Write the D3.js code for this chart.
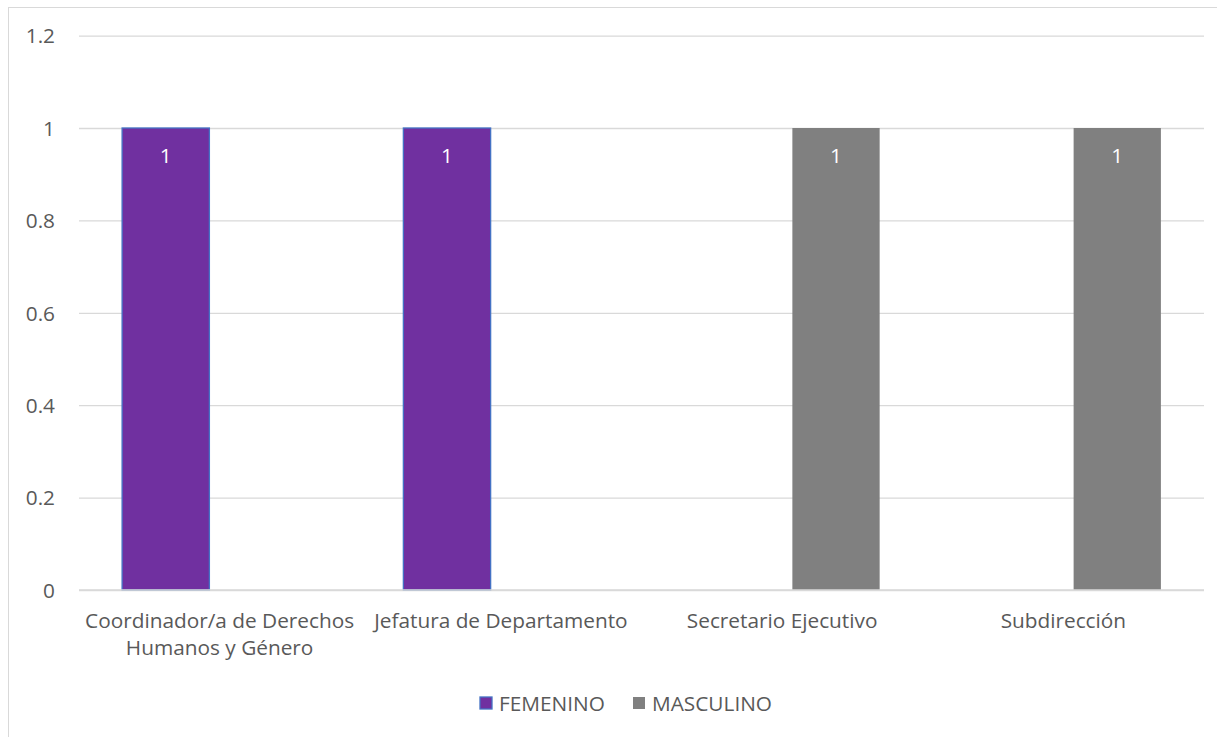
<!DOCTYPE html>
<html><head><meta charset="utf-8">
<script src="https://cdn.jsdelivr.net/npm/d3@7"></script>
<style>body{margin:0;background:#fff;} text{font-family:"Open Sans",Lato,sans-serif;}</style>
</head><body>
<svg id="c" width="1217" height="737"></svg>
<script>
const categories = [["Coordinador/a de Derechos","Humanos y Género"],["Jefatura de Departamento"],["Secretario Ejecutivo"],["Subdirección"]];
const seriesNames = ["FEMENINO","MASCULINO"];
const femenino = [1, 1, null, null];
const masculino = [null, null, 1, 1];
const yTicks = [0, 0.2, 0.4, 0.6, 0.8, 1, 1.2];
const colors = ["#7030A0", "#808080"];

(function(){
const FS = "20.8px";
const svg = d3.select("#c");
svg.append("rect").attr("x",8.5).attr("y",7.5).attr("width",1230).attr("height",760)
  .attr("fill","#fff").attr("stroke","#d9d9d9");

const pLeft = 79, pRight = 1204, pTop = 35.6, pBottom = 590;
const x0 = d3.scaleBand().domain(d3.range(categories.length)).range([pLeft,pRight]).padding(0);
const y = d3.scaleLinear().domain([0,1.2]).range([pBottom, pTop]);
const x1 = d3.scaleBand().domain(seriesNames).range([0, x0.bandwidth()]).paddingInner(0.19).paddingOuter(0.4);

const yAxis = d3.axisLeft(y).tickValues(yTicks).tickSize(-(pRight-pLeft)).tickFormat(d=>d3.format("")(d));
const gy = svg.append("g").attr("transform",`translate(${pLeft},0)`).call(yAxis)
  .attr("font-family",null).attr("font-size",null);
gy.select(".domain").remove();
gy.selectAll("line").attr("stroke","#d9d9d9").attr("stroke-width",1.3);
gy.selectAll("text").attr("x",-24).attr("fill","#595959").style("font-size",FS).attr("dy","0.35em");

const series = [femenino, masculino];
series.forEach((vals,si)=>{
  const g = svg.append("g");
  vals.forEach((v,i)=>{
    if(v==null) return;
    const xx = x0(i)+x1(seriesNames[si]);
    g.append("rect").attr("x",xx).attr("y",y(v)).attr("width",x1.bandwidth()).attr("height",y(0)-y(v))
      .attr("fill",colors[si]).attr("stroke", si===0?"#4472C4":"none").attr("stroke-width",1.3);
    g.append("text").attr("x",xx+x1.bandwidth()/2).attr("y",y(v)+35).attr("text-anchor","middle")
      .attr("fill","#fff").style("font-size",FS).text(v);
  });
});
svg.append("line").attr("x1",pLeft).attr("x2",pRight).attr("y1",y(0)).attr("y2",y(0)).attr("stroke","#d9d9d9").attr("stroke-width",1.3);

categories.forEach((lines,i)=>{
  const cx = x0(i)+x0.bandwidth()/2;
  lines.forEach((l,j)=>{
    svg.append("text").attr("x",cx).attr("y",628+j*27).attr("text-anchor","middle")
      .attr("fill","#595959").style("font-size",FS).text(l);
  });
});

const legX = [480, 633];
seriesNames.forEach((n,i)=>{
  svg.append("rect").attr("x",legX[i]).attr("y",697).attr("width",12).attr("height",12)
    .attr("fill",colors[i]).attr("stroke", i===0?"#4472C4":"none").attr("stroke-width",1.3);
  svg.append("text").attr("x",legX[i]+19).attr("y",711).attr("fill","#595959").style("font-size",FS).text(n);
});
})();
</script>
</body></html>
